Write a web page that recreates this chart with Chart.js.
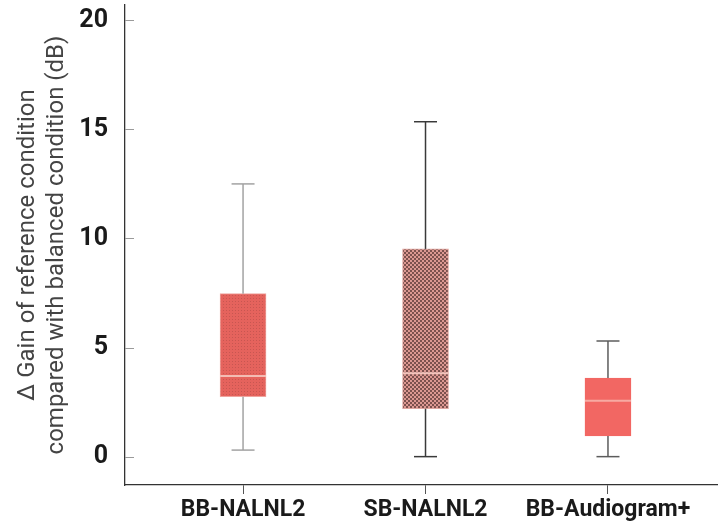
<!DOCTYPE html>
<html>
<head>
    <script src="https://cdn.jsdelivr.net/npm/chart.js@4.4.1/dist/chart.umd.min.js"></script>
    <style>
        body { margin: 0; background: #fff; }
        #wrap { position: relative; width: 718px; height: 524px; }
    </style>
</head>
<body>
    <div id="wrap"><canvas id="box"></canvas></div>
    <script>
        // data
        var groups = ['BB-NALNL2', 'SB-NALNL2', 'BB-Audiogram+'];
        var whiskerLow = [0.3, 0, 0];
        var q1 = [2.75, 2.2, 0.95];
        var median = [3.7, 3.82, 2.56];
        var q3 = [7.47, 9.52, 3.6];
        var whiskerHigh = [12.5, 15.35, 5.3];
        var yTicks = [0, 5, 10, 15, 20];
        var yTitle = ['\u0394 Gain of reference condition', 'compared with balanced condition (dB)'];

        var boxHalf = 0.126;   // in x units, ~23px
        var capHalf = 0.063;
        var whiskerColors = ['#a3a3a3', '#3a3a3a', '#5c5c5c'];
        var medianColors = ['#f3bcb4', '#f2c4bc', '#f7aaa2'];
        var boxBorders = ['#efa49e', '#e0a8a2', '#f26763'];

        function makePattern(size, base, dark, cells) {
            var c = document.createElement('canvas');
            c.width = size; c.height = size;
            var g = c.getContext('2d');
            g.fillStyle = base;
            g.fillRect(0, 0, size, size);
            g.fillStyle = dark;
            cells.forEach(function (r) { g.fillRect(r[0], r[1], r[2], r[3]); });
            return g.createPattern(c, 'repeat');
        }

        var ctx = document.getElementById('box').getContext('2d');
        var fills = [
            makePattern(3, '#e5635d', '#c85651', [[1, 1, 1, 1]]),
            makePattern(4, '#dc9892', '#7c514e', [[0, 0, 2, 2], [2, 2, 2, 2]]),
            '#f26763'
        ];

        var datasets = [{
            type: 'bar',
            data: groups.map(function (g, i) { return { x: i + 1, y: [q1[i], q3[i]] }; }),
            backgroundColor: fills,
            borderColor: boxBorders,
            borderWidth: 1,
            borderSkipped: false,
            barThickness: 46,
            order: 10
        }];

        function seg(points, color, width) {
            datasets.push({
                type: 'line',
                data: points,
                borderColor: color,
                borderWidth: width,
                pointRadius: 0,
                fill: false,
                order: 0
            });
        }

        for (var i = 0; i < groups.length; i++) {
            var x = i + 1;
            seg([{ x: x, y: whiskerLow[i] }, { x: x, y: q1[i] }], whiskerColors[i], 1.5);
            seg([{ x: x, y: q3[i] }, { x: x, y: whiskerHigh[i] }], whiskerColors[i], 1.5);
            seg([{ x: x - capHalf, y: whiskerLow[i] }, { x: x + capHalf, y: whiskerLow[i] }], whiskerColors[i], 1.5);
            seg([{ x: x - capHalf, y: whiskerHigh[i] }, { x: x + capHalf, y: whiskerHigh[i] }], whiskerColors[i], 1.5);
            seg([{ x: x - boxHalf, y: median[i] }, { x: x + boxHalf, y: median[i] }], medianColors[i], 2);
        }

        var innerTicks = {
            id: 'innerTicks',
            afterDraw: function (chart) {
                var ys = chart.scales.y, c = chart.ctx, x0 = chart.chartArea.left;
                c.save();
                c.strokeStyle = '#9a9a9a';
                c.lineWidth = 1;
                ys.ticks.forEach(function (t) {
                    var py = Math.round(ys.getPixelForValue(t.value)) + 0.5;
                    c.beginPath();
                    c.moveTo(x0, py);
                    c.lineTo(x0 + 9, py);
                    c.stroke();
                });
                c.restore();
            }
        };

        new Chart(ctx, {
            type: 'bar',
            data: { datasets: datasets },
            plugins: [innerTicks],
            options: {
                responsive: true,
                maintainAspectRatio: false,
                animation: false,
                layout: { padding: { top: 5, right: 0, left: 0, bottom: 0 } },
                plugins: { legend: { display: false }, tooltip: { enabled: false } },
                scales: {
                    x: {
                        type: 'linear',
                        min: 0.353,
                        max: 3.603,
                        offset: false,
                        afterFit: function (s) {
                            s.height = 39;
                            s.paddingLeft = 0;
                            s.paddingRight = 0;
                        },
                        afterBuildTicks: function (s) {
                            s.ticks = groups.map(function (g, i) { return { value: i + 1 }; });
                        },
                        grid: { offset: false, drawOnChartArea: false, drawTicks: true, tickLength: 9, color: '#555' },
                        border: { display: true, color: '#333', width: 1.3 },
                        ticks: {
                            autoSkip: false,
                            maxRotation: 0,
                            padding: 2,
                            color: '#1a1a1a',
                            font: { family: 'Roboto', weight: 'bold', size: 23 },
                            callback: function (v) { return groups[Math.round(v) - 1]; }
                        }
                    },
                    y: {
                        type: 'linear',
                        min: -1.3,
                        max: 20.7,
                        afterFit: function (s) {
                            s.width = 125;
                            s.paddingTop = 0;
                            s.paddingBottom = 0;
                        },
                        afterBuildTicks: function (s) {
                            s.ticks = yTicks.map(function (v) { return { value: v }; });
                        },
                        grid: { drawOnChartArea: false, drawTicks: false },
                        border: { display: true, color: '#333', width: 1.3 },
                        ticks: {
                            padding: 17,
                            color: '#1a1a1a',
                            font: { family: 'Roboto', weight: 'bold', size: 25 }
                        },
                        title: {
                            display: true,
                            text: yTitle,
                            color: '#444',
                            padding: { top: 13.5, bottom: 0 },
                            font: { family: 'Roboto', size: 24, lineHeight: 1.21 }
                        }
                    }
                }
            }
        });
    </script>
</body>
</html>
